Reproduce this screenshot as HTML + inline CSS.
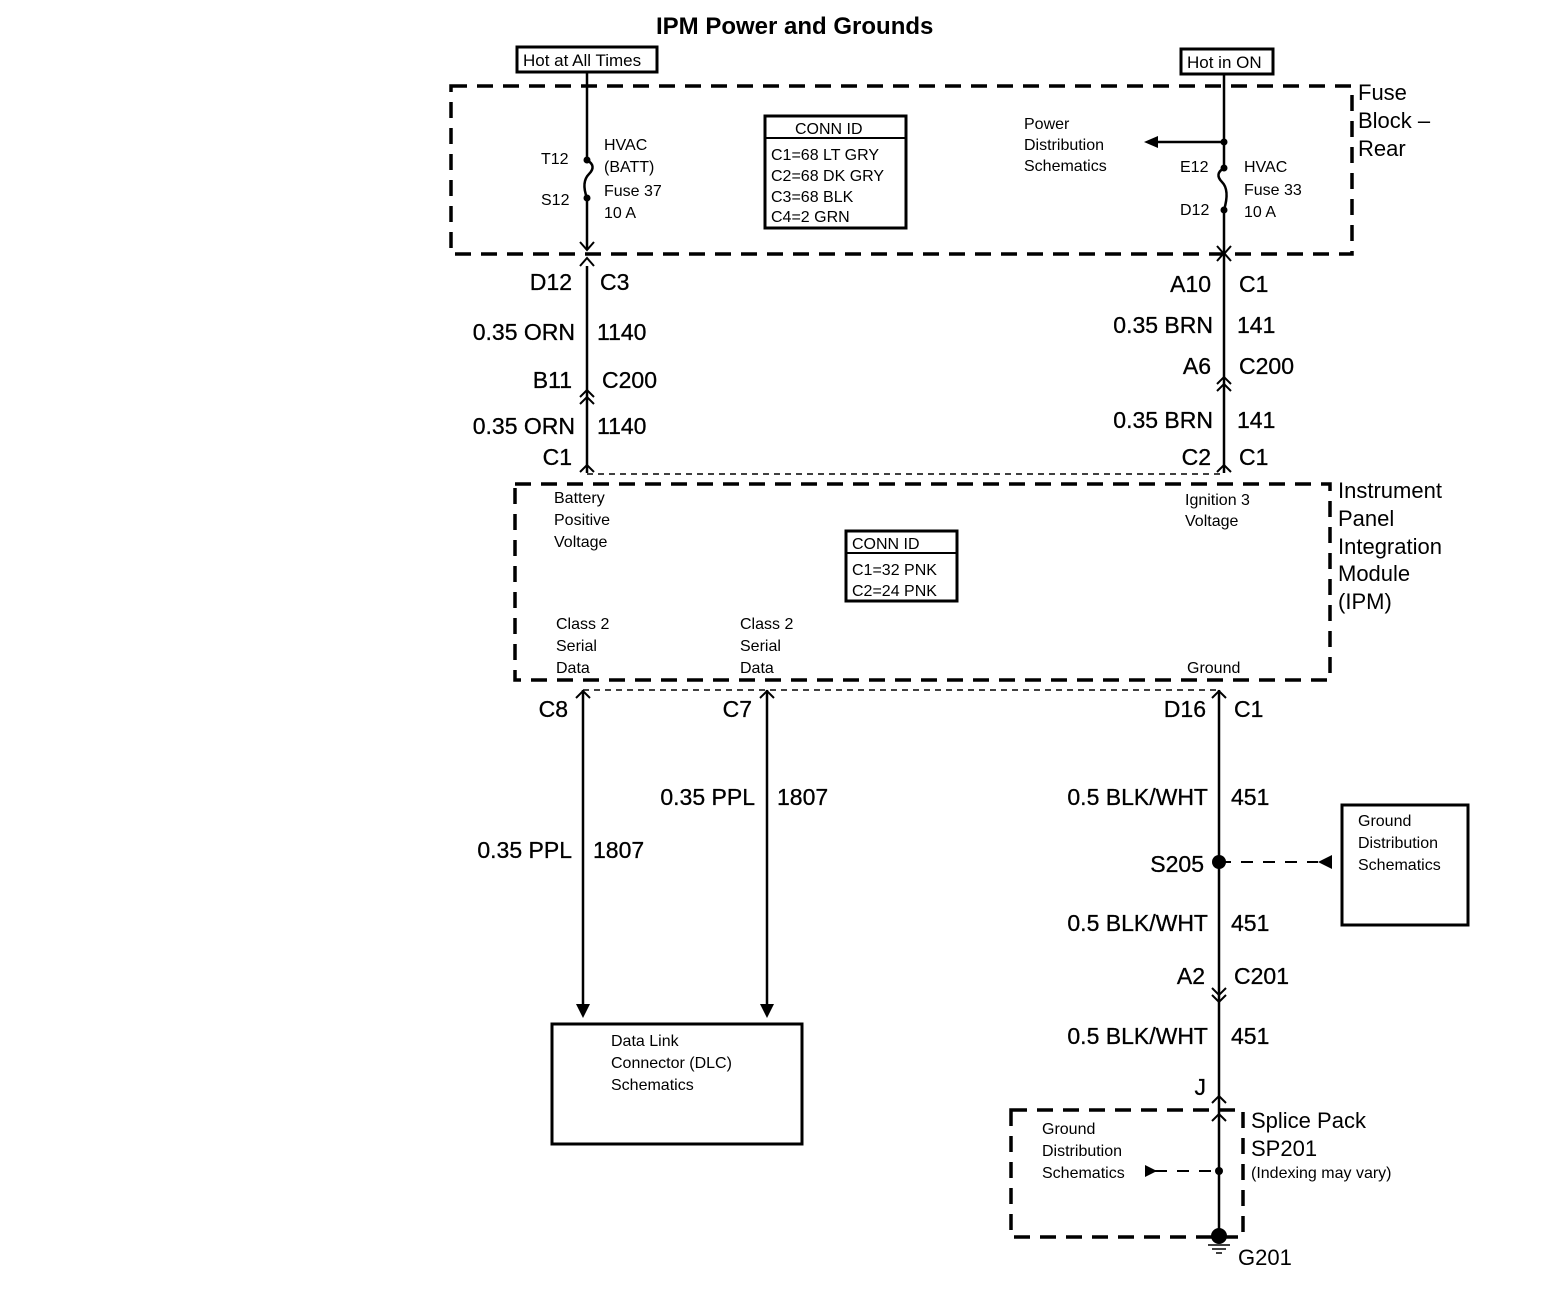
<!DOCTYPE html>
<html><head><style>body{margin:0;background:#fff}svg{display:block}text{font-family:"Liberation Sans",Arial,sans-serif;fill:#000}</style></head><body>
<svg width="1542" height="1312" viewBox="0 0 1542 1312" xmlns="http://www.w3.org/2000/svg">
<g font-size="24" font-weight="bold"><text x="656" y="34">IPM Power and Grounds</text></g>
<g fill="none" stroke="#000">
<rect x="517" y="47" width="140" height="25" stroke-width="3"/>
<rect x="1181" y="49" width="92" height="25" stroke-width="3"/>
<rect x="451" y="86" width="901" height="168" stroke-width="3.5" stroke-dasharray="16,10"/>
<rect x="515" y="484" width="815" height="196" stroke-width="3.5" stroke-dasharray="16,10"/>
<rect x="1011" y="1110" width="232" height="127" stroke-width="3.5" stroke-dasharray="16,10"/>
<rect x="765" y="116" width="141" height="112" stroke-width="3"/>
<line x1="765" y1="138" x2="906" y2="138" stroke-width="2"/>
<rect x="846" y="531" width="111" height="70" stroke-width="3"/>
<line x1="846" y1="553" x2="957" y2="553" stroke-width="2"/>
<rect x="1342" y="805" width="126" height="120" stroke-width="3"/>
<rect x="552" y="1024" width="250" height="120" stroke-width="3"/>
<g stroke-width="2.5">
<line x1="587" y1="72" x2="587" y2="160"/>
<path d="M587 160 q10 6 2 14 q-8 8 -2 24"/>
<line x1="587" y1="198" x2="587" y2="250"/>
<line x1="587" y1="266" x2="587" y2="473"/>
<line x1="1224" y1="74" x2="1224" y2="168"/>
<path d="M1224 168 q-10 6 -2 14 q8 8 2 28"/>
<line x1="1224" y1="210" x2="1224" y2="473"/>
<line x1="1224" y1="142" x2="1158" y2="142"/>
<line x1="583" y1="690" x2="583" y2="1006"/>
<line x1="767" y1="690" x2="767" y2="1006"/>
<line x1="1219" y1="690" x2="1219" y2="1230"/>
</g>
<g stroke-width="2">
<path d="M580 242 l7 8 l7 -8"/><path d="M580 266 l7 -8 l7 8"/>
<path d="M1217 261 l7 -8 l7 8"/><path d="M1217 246 l7 8 l7 -8"/>
<path d="M580 397 l7 -7 l7 7"/><path d="M580 404 l7 -7 l7 7"/>
<path d="M1217 384 l7 -7 l7 7"/><path d="M1217 391 l7 -7 l7 7"/>
<path d="M580 472 l7 -7 l7 7"/><path d="M1217 472 l7 -7 l7 7"/>
<path d="M576 698 l7 -7 l7 7"/><path d="M760 698 l7 -7 l7 7"/><path d="M1212 698 l7 -7 l7 7"/>
<path d="M1212 988 l7 7 l7 -7"/><path d="M1212 995 l7 7 l7 -7"/>
<path d="M1212 1103 l7 -7 l7 7"/><path d="M1212 1121 l7 -7 l7 7"/>
</g>
<line x1="587" y1="474" x2="1224" y2="474" stroke-width="1.5" stroke-dasharray="6,5"/>
<line x1="583" y1="690" x2="1219" y2="690" stroke-width="1.5" stroke-dasharray="6,5"/>
<line x1="1219" y1="862" x2="1318" y2="862" stroke-width="2" stroke-dasharray="12,10"/>
<line x1="1155" y1="1171" x2="1219" y2="1171" stroke-width="2" stroke-dasharray="12,10"/>
<g stroke-width="1.5"><line x1="1208" y1="1245" x2="1230" y2="1245"/><line x1="1212" y1="1249" x2="1226" y2="1249"/><line x1="1216" y1="1253" x2="1222" y2="1253"/></g>
</g>
<g fill="#000">
<circle cx="587" cy="160" r="3.5"/><circle cx="587" cy="198" r="3.5"/>
<circle cx="1224" cy="168" r="3.5"/><circle cx="1224" cy="210" r="3.5"/><circle cx="1224" cy="142" r="3.5"/>
<circle cx="1219" cy="862" r="7"/><circle cx="1219" cy="1171" r="4"/><circle cx="1219" cy="1236" r="8"/>
<path d="M1144 142 l14 -6 v12 z"/>
<path d="M576 1004 l7 14 l7 -14 z"/><path d="M760 1004 l7 14 l7 -14 z"/>
<path d="M1318 855 l14 7 l-14 7 z" transform="rotate(180 1325 862)"/>
<path d="M1145 1165 l12 6 l-12 6 z"/>
</g>
<g font-size="17">
<text x="523" y="66">Hot at All Times</text>
<text x="1187" y="68">Hot in ON</text>
</g>
<g font-size="16">
<text x="541" y="164">T12</text><text x="541" y="205">S12</text>
<text x="604" y="150">HVAC</text><text x="604" y="172">(BATT)</text><text x="604" y="196">Fuse 37</text><text x="604" y="218">10 A</text>
<text x="795" y="134">CONN ID</text>
<text x="771" y="160">C1=68 LT GRY</text><text x="771" y="181">C2=68 DK GRY</text><text x="771" y="202">C3=68 BLK</text><text x="771" y="222">C4=2 GRN</text>
<text x="1024" y="129">Power</text><text x="1024" y="150">Distribution</text><text x="1024" y="171">Schematics</text>
<text x="1180" y="172">E12</text><text x="1180" y="215">D12</text>
<text x="1244" y="172">HVAC</text><text x="1244" y="195">Fuse 33</text><text x="1244" y="217">10 A</text>
<text x="554" y="503">Battery</text><text x="554" y="525">Positive</text><text x="554" y="547">Voltage</text>
<text x="1185" y="505">Ignition 3</text><text x="1185" y="526">Voltage</text>
<text x="852" y="549">CONN ID</text><text x="852" y="575">C1=32 PNK</text><text x="852" y="596">C2=24 PNK</text>
<text x="556" y="629">Class 2</text><text x="556" y="651">Serial</text><text x="556" y="673">Data</text>
<text x="740" y="629">Class 2</text><text x="740" y="651">Serial</text><text x="740" y="673">Data</text>
<text x="1187" y="673">Ground</text>
<text x="1358" y="826">Ground</text><text x="1358" y="848">Distribution</text><text x="1358" y="870">Schematics</text>
<text x="611" y="1046">Data Link</text><text x="611" y="1068">Connector (DLC)</text><text x="611" y="1090">Schematics</text>
<text x="1042" y="1134">Ground</text><text x="1042" y="1156">Distribution</text><text x="1042" y="1178">Schematics</text>
<text x="1251" y="1178">(Indexing may vary)</text>
</g>
<g font-size="22">
<text x="1358" y="100">Fuse</text><text x="1358" y="128">Block –</text><text x="1358" y="156">Rear</text>
<text x="1338" y="498">Instrument</text><text x="1338" y="526">Panel</text><text x="1338" y="554">Integration</text><text x="1338" y="581">Module</text><text x="1338" y="609">(IPM)</text>
<text x="1251" y="1128">Splice Pack</text><text x="1251" y="1156">SP201</text>
<text x="1238" y="1265">G201</text>
</g>
<g font-size="23" stroke="#000" stroke-width="0.3">
<g text-anchor="end">
<text x="572" y="290">D12</text><text x="575" y="340">0.35 ORN</text><text x="572" y="388">B11</text><text x="575" y="434">0.35 ORN</text><text x="572" y="465">C1</text>
<text x="1211" y="292">A10</text><text x="1213" y="333">0.35 BRN</text><text x="1211" y="374">A6</text><text x="1213" y="428">0.35 BRN</text><text x="1211" y="465">C2</text>
<text x="568" y="717">C8</text><text x="752" y="717">C7</text><text x="1206" y="717">D16</text>
<text x="755" y="805">0.35 PPL</text><text x="572" y="858">0.35 PPL</text>
<text x="1208" y="805">0.5 BLK/WHT</text><text x="1204" y="872">S205</text><text x="1208" y="931">0.5 BLK/WHT</text><text x="1205" y="984">A2</text><text x="1208" y="1044">0.5 BLK/WHT</text><text x="1206" y="1095">J</text>
</g>
<text x="600" y="290">C3</text><text x="597" y="340">1140</text><text x="602" y="388">C200</text><text x="597" y="434">1140</text>
<text x="1239" y="292">C1</text><text x="1237" y="333">141</text><text x="1239" y="374">C200</text><text x="1237" y="428">141</text><text x="1239" y="465">C1</text>
<text x="1234" y="717">C1</text><text x="777" y="805">1807</text><text x="593" y="858">1807</text>
<text x="1231" y="805">451</text><text x="1231" y="931">451</text><text x="1234" y="984">C201</text><text x="1231" y="1044">451</text>
</g>
</svg>
</body></html>
